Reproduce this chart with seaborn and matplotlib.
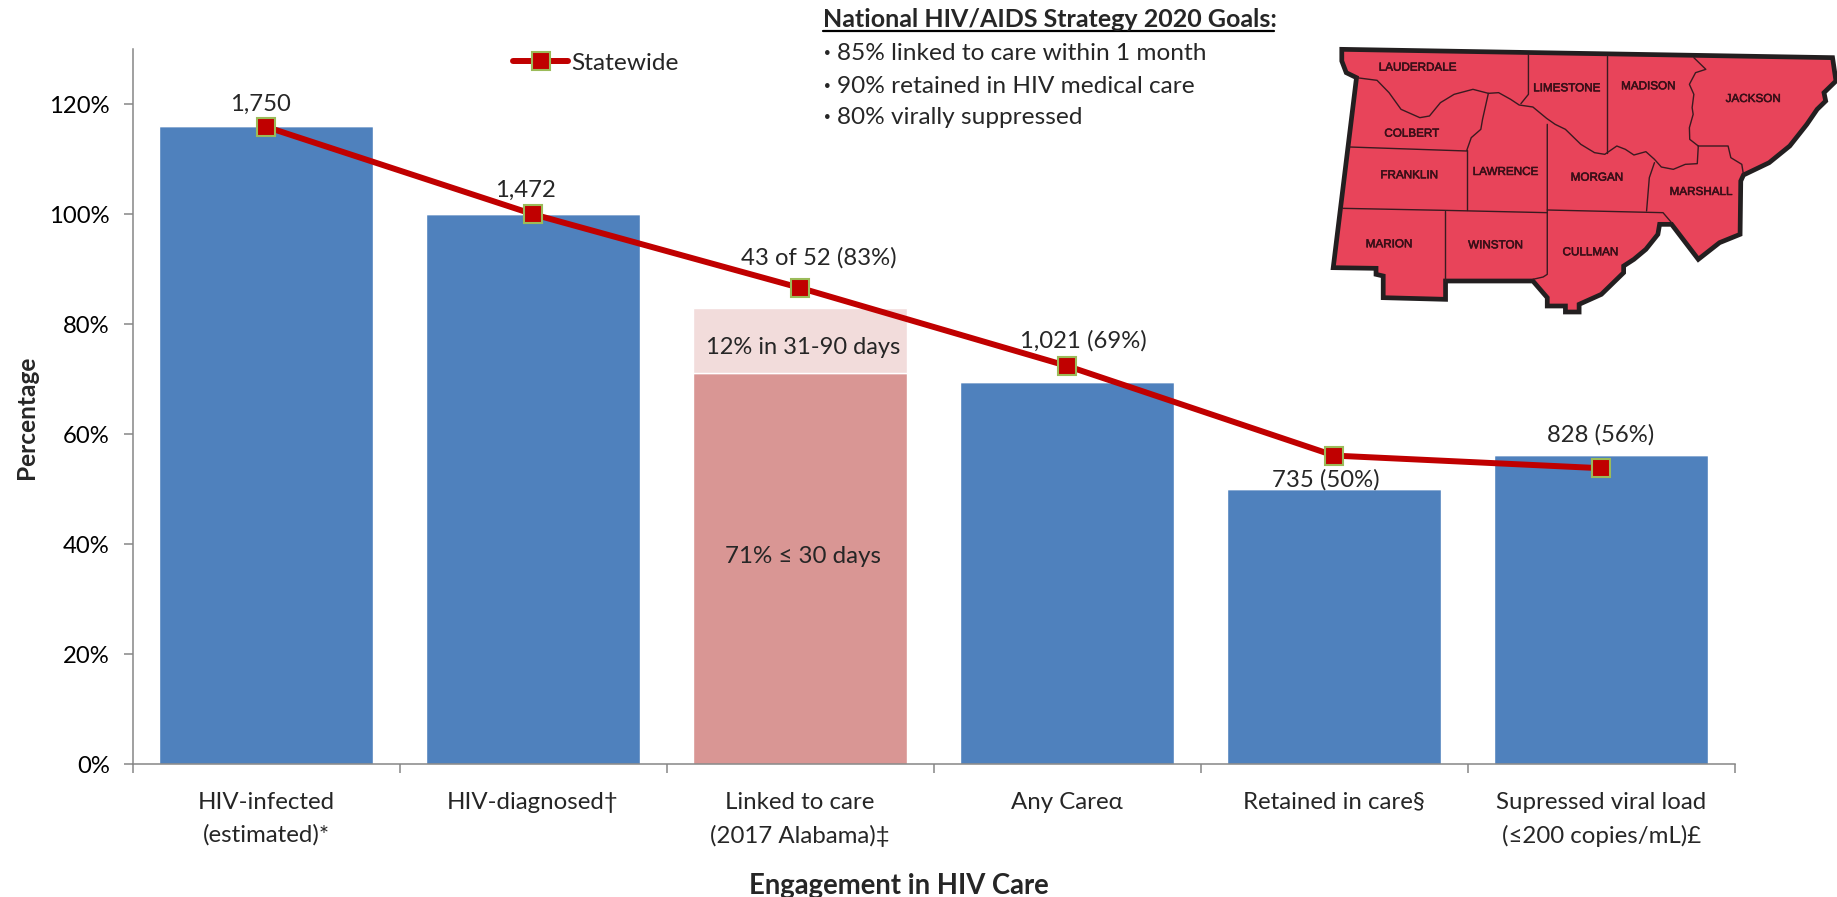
import numpy as np
import pandas as pd
import seaborn as sns
from matplotlib import pyplot as plt
from matplotlib import patheffects
from matplotlib.lines import Line2D

W, H = 1837, 897
FONT = 'Lato'

categories = ['HIV-infected\n(estimated)*', 'HIV-diagnosed†', 'Linked to care\n(2017 Alabama)‡',
              'Any Careα', 'Retained in care§', 'Supressed viral load\n(≤200 copies/mL)£']
bar_values = [116.0, 100.0, 71.2, 69.4, 50.0, 56.2]
linked_late = [0, 0, 11.7, 0, 0, 0]
statewide = [115.9, 100.0, 86.6, 72.4, 56.1, 53.8]
y_ticks = [0, 20, 40, 60, 80, 100, 120]

bar_labels = ['1,750', '1,472', '43 of 52 (83%)', '1,021 (69%)', '735 (50%)', '828 (56%)']
label_x = [-0.02, 0.97, 2.07, 3.06, 3.97, 5.0]
label_y = [120.0, 104.4, 92.0, 76.9, 51.6, 59.9]

goals_title = 'National HIV/AIDS Strategy 2020 Goals:'
goals = ['85% linked to care within 1 month', '90% retained in HIV medical care', '80% virally suppressed']

# map traced by hand, in the pixels of the 3x crop
map_outline = [(122, 55), (1555, 80), (1565, 150), (1530, 185), (1535, 210), (1510, 235), (1480, 280),
               (1430, 345), (1370, 395), (1295, 432), (1287, 450), (1285, 610), (1225, 635), (1163, 685),
               (1085, 580), (1050, 580), (1045, 610), (1010, 655), (975, 685), (945, 705), (945, 725),
               (880, 790), (815, 820), (815, 843), (775, 843), (775, 825), (722, 825), (722, 800),
               (680, 750), (425, 750), (425, 805), (243, 800), (243, 735), (222, 730), (222, 712),
               (97, 710), (165, 140), (135, 125), (122, 90)]
map_lines = [
  [(165, 140), (225, 148), (260, 185), (295, 235), (350, 260), (378, 255), (410, 215), (450, 190),
   (505, 175), (550, 187), (580, 185), (615, 205), (640, 222), (680, 228), (720, 262), (745, 280),
   (775, 295), (820, 340), (860, 365), (890, 370), (925, 345), (950, 355), (975, 372), (1010, 362),
   (1035, 385), (1055, 408), (1090, 415), (1125, 400), (1160, 398), (1163, 345)],
  [(1163, 345), (1250, 345), (1258, 380), (1290, 400), (1295, 432)],
  [(667, 70), (667, 190), (645, 218)],
  [(895, 75), (895, 365)],
  [(1150, 80), (1185, 115), (1155, 125), (1137, 160), (1150, 190), (1145, 230), (1148, 250),
   (1137, 290), (1138, 325), (1163, 345)],
  [(550, 187), (533, 265), (528, 295), (500, 320), (487, 358)],
  [(145, 348), (487, 360)],
  [(487, 358), (487, 538)],
  [(125, 532), (420, 538), (722, 545)],
  [(722, 280), (722, 730), (710, 738), (680, 745)],
  [(422, 540), (422, 750)],
  [(722, 537), (1060, 545), (1085, 575)],
  [(1035, 395), (1020, 440), (1012, 540)],
]
counties = ['LAUDERDALE', 'LIMESTONE', 'MADISON', 'JACKSON', 'COLBERT', 'FRANKLIN', 'LAWRENCE',
            'MORGAN', 'MARSHALL', 'MARION', 'WINSTON', 'CULLMAN']
county_x = [343, 779, 1017, 1323, 326, 319, 600, 867, 1171, 260, 571, 848]
county_y = [110, 172, 166, 204, 308, 433, 423, 440, 483, 640, 643, 664]


def _px(x, y):
  return x / W, 1 - y / H


def _draw_map(fig):
  left, bottom = _px(1300, 321)
  ax = fig.add_axes([left, bottom, 537 / W, 290 / H])
  ax.set_xlim(0, 1568)
  ax.set_ylim(870, 0)
  ax.axis('off')
  xs, ys = zip(*map_outline)
  ax.fill(xs, ys, facecolor='#E8445A', edgecolor='#231F20', linewidth=3.4, joinstyle='miter')
  for line in map_lines:
    xs, ys = zip(*line)
    ax.plot(xs, ys, color='#3A1A20', linewidth=1.0)
  for name, x, y in zip(counties, county_x, county_y):
    t = ax.text(x, y, name, ha='center', va='center', fontsize=8.4, color='#3A0F18',
                family=['Liberation Sans', 'DejaVu Sans'])
    t.set_path_effects([patheffects.withStroke(linewidth=0.4, foreground='#3A0F18')])


sns.set_style('white')
plt.rcParams['font.family'] = [FONT, 'DejaVu Sans']

fig = plt.figure(figsize=(W / 100, H / 100), dpi=100)
ax = fig.add_axes([132.6 / W, 1 - 764 / H, 1602 / W, 714.7 / H])

df = pd.DataFrame({'category': categories, 'value': bar_values, 'late': linked_late})
palette = ['#4F81BD', '#4F81BD', '#D99694', '#4F81BD', '#4F81BD', '#4F81BD']
sns.barplot(data=df, x='category', y='value', hue='category', palette=palette, saturation=1,
            width=0.8, legend=False, ax=ax)
sns.barplot(data=df, x='category', y='late', color='#F2DCDB', saturation=1, width=0.8,
            bottom=df['value'], ax=ax)
sns.lineplot(x=np.arange(len(categories)), y=statewide, sort=False, errorbar=None, color='#C00000',
             linewidth=4.3, marker='s', markersize=13.5, markerfacecolor='#C00000',
             markeredgecolor='#9BBB59', markeredgewidth=1.5, label='Statewide', ax=ax, zorder=5)

ax.set_xlim(-0.5, 5.5)
ax.set_ylim(0, 130)
ax.set_yticks(y_ticks)
ax.set_yticklabels(['{}%'.format(t) for t in y_ticks])
ax.set_xticks(np.arange(len(categories)))
ax.set_xticklabels(categories, linespacing=1.65)
ax.set_xticks(np.arange(-0.5, 6), minor=True)
sns.despine(ax=ax)
for side in ('left', 'bottom'):
  ax.spines[side].set_color('#868686')
  ax.spines[side].set_linewidth(1.1)
ax.tick_params(axis='y', which='major', left=True, length=6.5, width=1.1, color='#868686',
               labelsize=17.2, pad=10, labelcolor='black')
ax.tick_params(axis='x', which='major', bottom=False, length=0, labelsize=17.3, pad=20)
ax.tick_params(axis='x', which='minor', bottom=True, length=6.5, width=1.1, color='#868686')

fig.text(*_px(27, 417), 'Percentage', rotation=90, ha='center', va='center', fontsize=17.6, fontweight='bold')
fig.text(*_px(899, 886), 'Engagement in HIV Care', ha='center', va='center', fontsize=19.8, fontweight='bold')
ax.set_xlabel('')
ax.set_ylabel('')

for text, x, y in zip(bar_labels, label_x, label_y):
  ax.text(x, y, text, ha='center', va='center', fontsize=17.2, zorder=6)
ax.text(2.01, 75.8, '12% in 31-90 days', ha='center', va='center', fontsize=17, zorder=6)
ax.text(2.01, 37.8, '71% ≤ 30 days', ha='center', va='center', fontsize=17.4, zorder=6)

ax.legend(loc='center left', bbox_to_anchor=_px(513, 63), bbox_transform=fig.transFigure, frameon=False,
          fontsize=17.6, handlelength=2.25, borderpad=0, borderaxespad=0, handletextpad=0.15)

fig.text(*_px(823, 26.7), goals_title, ha='left', va='baseline', fontsize=18, fontweight='bold')
x0, y0 = _px(823, 31)
x1, _ = _px(1274, 31)
fig.add_artist(Line2D([x0, x1], [y0, y0], color='black', linewidth=1.6))
for text, y in zip(goals, [60, 92.7, 124.3]):
  fig.text(*_px(824, y), '·', ha='left', va='baseline', fontsize=17.6, fontweight='bold')
  fig.text(*_px(837, y), text, ha='left', va='baseline', fontsize=17.6)

_draw_map(fig)

fig.savefig('out.png', dpi=100)
